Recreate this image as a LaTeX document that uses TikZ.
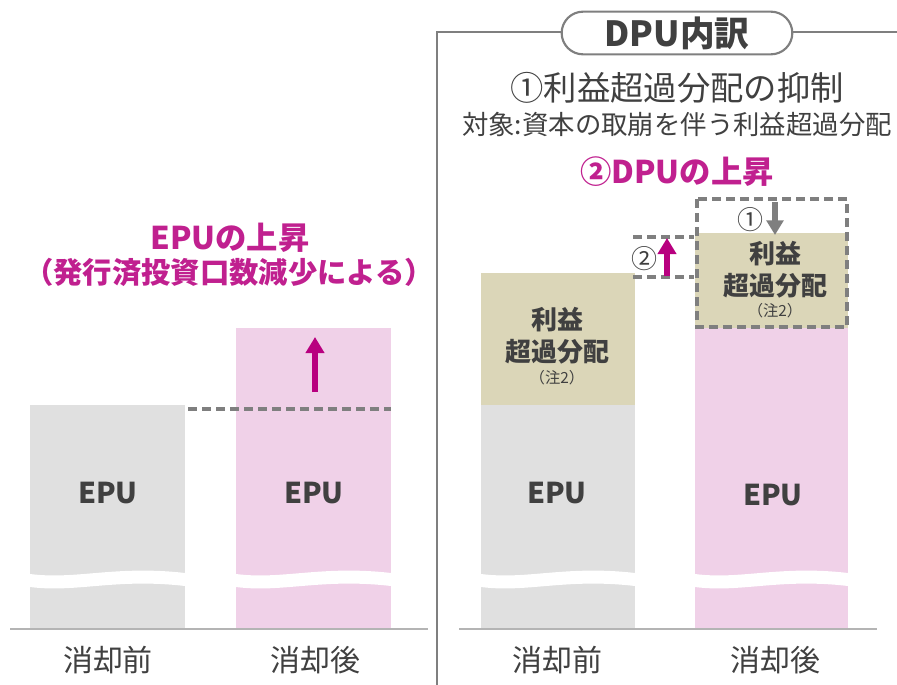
\documentclass[tikz,border=0pt]{standalone}
\usepackage{fontspec}
\setmainfont{Noto Sans CJK JP}
\usetikzlibrary{arrows.meta}
\definecolor{barg}{HTML}{E0E0E0}
\definecolor{barp}{HTML}{F0D1E8}
\definecolor{beige}{HTML}{DBD6B8}
\definecolor{mag}{HTML}{B8007F}
\definecolor{magt}{HTML}{C0208F}
\definecolor{dg}{HTML}{7F7F7F}
\definecolor{txt}{HTML}{404040}
\definecolor{lin}{HTML}{B4B4B4}
\begin{document}
\begin{tikzpicture}[x=0.75pt,y=-0.75pt,
  lbl/.style={text=txt,font=\fontsize{22.5}{26}\selectfont},
  barlbl/.style={text=txt,font=\bfseries\fontsize{21.5}{24}\selectfont},
  divlbl/.style={text=txt,font=\bfseries\fontsize{19.5}{24}\selectfont,align=center},
  note/.style={text=txt,font=\fontsize{11.5}{13}\selectfont},
  magtitle/.style={text=magt,font=\bfseries\fontsize{23.5}{26}\selectfont},
  dashln/.style={draw=dg,line width=2.4pt,dash pattern=on 7pt off 3.5pt},
  uparrow/.style={draw=mag,line width=4.5pt,-{Triangle[width=13.5pt,length=12pt]}},
  dnarrow/.style={draw=dg,line width=4pt,-{Triangle[width=12.5pt,length=11pt]}},
  circ/.style={text=txt,font=\fontsize{19.5}{22}\selectfont}]
\useasboundingbox (0,0) rectangle (897,685);
% bars
\fill[barg] (30,405) rectangle (185,630);
\fill[barp] (236,328) rectangle (391,630);
\fill[barg] (481,405) rectangle (635,630);
\fill[beige] (481,273) rectangle (635,405);
\fill[barp] (695,328) rectangle (848,630);
\fill[beige] (695,233) rectangle (848,328);
% wave cuts
\foreach \a/\b in {30/185,236/391,481/635,695/848}{
  \fill[white] (\a,574) .. controls ({\a+0.3*(\b-\a)},580) and ({\a+0.55*(\b-\a)},565) .. (\b,573)
    -- (\b,586) .. controls ({\a+0.55*(\b-\a)},578) and ({\a+0.3*(\b-\a)},593) .. (\a,587) -- cycle;
}
% baselines
\coordinate (bl1) at (10,629); \coordinate (bl2) at (428,629);
\coordinate (br1) at (459,629); \coordinate (br2) at (877,629);
\draw[lin,line width=1.2pt] (bl1) -- (bl2);
\draw[lin,line width=1.2pt] (br1) -- (br2);
% frame
\coordinate (v1) at (437,685); \coordinate (v2) at (437,32); \coordinate (v3) at (897,32);
\draw[dg,line width=1.6pt] (v1) -- (v2) -- (v3);
\node[draw=dg,line width=1.6pt,fill=white,rounded corners=16pt,minimum width=173pt,minimum height=32pt,
  text=txt,font=\bfseries\fontsize{26}{28}\selectfont,inner sep=0pt] (ttl) at (677,33) {DPU内訳};
\node[lbl,font=\fontsize{25}{28}\selectfont] (t1) at (677,88) {①利益超過分配の抑制};
\node[lbl,font=\fontsize{19.8}{22}\selectfont] (t2) at (677,124) {対象:資本の取崩を伴う利益超過分配};
\node[magtitle] (t3) at (677,172) {②DPUの上昇};
% left titles
\node[magtitle] (e1) at (230,238) {EPUの上昇};
\node[magtitle,font=\bfseries\fontsize{22}{26}\selectfont] (e2) at (229,272) {（発行済投資口数減少による）};
% bar labels
\node[barlbl] (ep1) at (108,493) {EPU};
\node[barlbl] (ep2) at (314,493) {EPU};
\node[barlbl] (ep3) at (557,493) {EPU};
\node[barlbl] (ep4) at (773,495) {EPU};
\node[divlbl] (d1) at (557,336) {利益\\超過分配};
\node[note] (n1) at (557,378) {（注2）};
\node[divlbl] (d2) at (775,270) {利益\\超過分配};
\node[note] (n2) at (775,311) {（注2）};
% axis labels
\node[lbl] (x1) at (108,660) {消却前};
\node[lbl] (x2) at (315,660) {消却後};
\node[lbl] (x3) at (557,660) {消却前};
\node[lbl] (x4) at (775,660) {消却後};
% dashed lines
\coordinate (dl1) at (188,409); \coordinate (dl2) at (391,409);
\draw[dashln] (dl1) -- (dl2);
\coordinate (dr1) at (633,237); \coordinate (dr2) at (694,237);
\coordinate (dr3) at (633,277); \coordinate (dr4) at (694,277);
\draw[dashln] (dr1) -- (dr2);
\draw[dashln] (dr3) -- (dr4);
\draw[dashln,line width=3.2pt] (697,199) rectangle (847,327);
% arrows
\coordinate (a1s) at (315,392); \coordinate (a1e) at (315,337);
\draw[uparrow] (a1s) -- (a1e);
\coordinate (a2s) at (667,276); \coordinate (a2e) at (667,238);
\draw[uparrow] (a2s) -- (a2e);
\coordinate (a3s) at (775,202); \coordinate (a3e) at (775,235);
\draw[dnarrow] (a3s) -- (a3e);
\node[circ] (c1) at (750,220) {①};
\node[circ] (c2) at (644,259) {②};
\end{tikzpicture}
\end{document}
